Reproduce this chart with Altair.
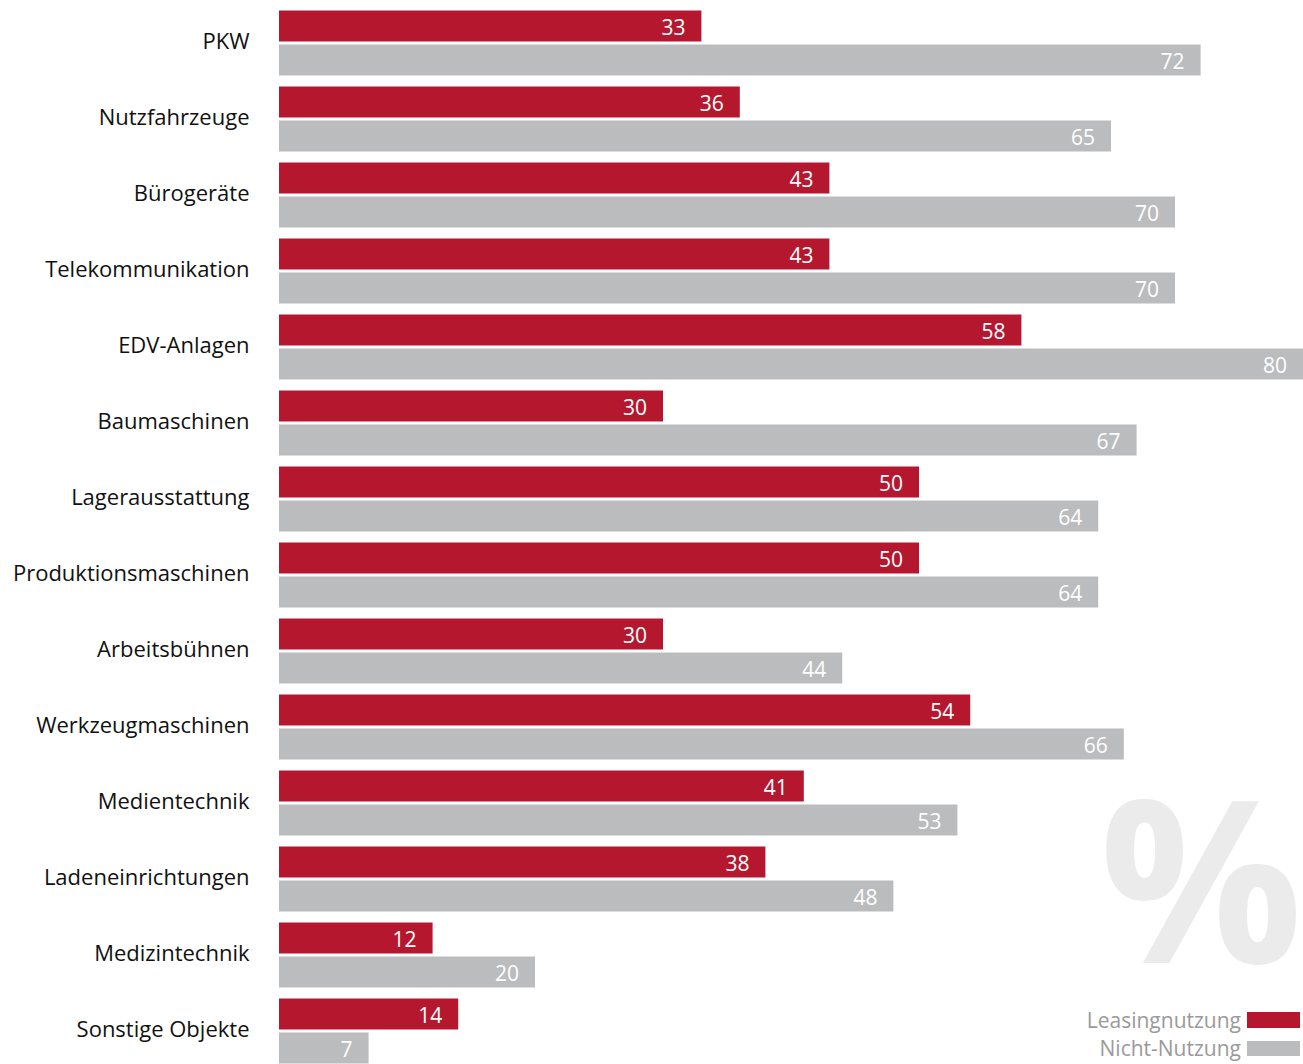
import altair as alt
import pandas as pd

categories = ["PKW", "Nutzfahrzeuge", "Bürogeräte", "Telekommunikation", "EDV-Anlagen",
              "Baumaschinen", "Lagerausstattung", "Produktionsmaschinen", "Arbeitsbühnen",
              "Werkzeugmaschinen", "Medientechnik", "Ladeneinrichtungen", "Medizintechnik",
              "Sonstige Objekte"]
leasing = [33, 36, 43, 43, 58, 30, 50, 50, 30, 54, 41, 38, 12, 14]
nicht = [72, 65, 70, 70, 80, 67, 64, 64, 44, 66, 53, 48, 20, 7]
series = ["Leasingnutzung", "Nicht-Nutzung"]
colors = ["#B5182E", "#BBBCBE"]

rows = []
for c, a, b in zip(categories, leasing, nicht):
    rows.append({"Kategorie": c, "Serie": series[0], "Wert": a})
    rows.append({"Kategorie": c, "Serie": series[1], "Wert": b})
df = pd.DataFrame(rows)

FONT = "Open Sans"

y_enc = alt.Y("Kategorie:N", sort=categories, title=None,
              scale=alt.Scale(paddingInner=0.1447, paddingOuter=0.0724),
              axis=alt.Axis(domain=False, ticks=False, labelPadding=30, labelFontSize=22,
                            labelColor="#111111", labelFont=FONT, labelLimit=400, labelOffset=-1))
yoff = alt.YOffset("Serie:N", sort=series, scale=alt.Scale(paddingInner=0.09, paddingOuter=0))
x_enc = alt.X("Wert:Q", scale=alt.Scale(domain=[0, 80], nice=False), axis=None)
color_enc = alt.Color("Serie:N", scale=alt.Scale(domain=series, range=colors), legend=None)

base = alt.Chart(df)

watermark = alt.Chart(pd.DataFrame({"t": ["%"]})).mark_text(
    font=FONT, fontSize=226, fontWeight="bold", color="#EBEBEB", align="center", baseline="alphabetic"
).encode(text="t:N", x=alt.value(922), y=alt.value(958))

bars = base.mark_bar().encode(y=y_enc, yOffset=yoff, x=x_enc, color=color_enc)

labels = base.mark_text(align="right", baseline="middle", dx=-16, dy=3, color="white",
                        fontSize=21, font=FONT).encode(
    y=alt.Y("Kategorie:N", sort=categories), yOffset=alt.YOffset("Serie:N", sort=series),
    x="Wert:Q", text="Wert:Q")

legend_layers = []
leg_y = [(1007, 1023), (1036, 1051)]
for i, s in enumerate(series):
    ldf = pd.DataFrame({"Serie": [s]})
    legend_layers.append(
        alt.Chart(ldf).mark_text(align="right", baseline="alphabetic", fontSize=21, font=FONT,
                                 color="#9A9A9A").encode(
            text="Serie:N", x=alt.value(962), y=alt.value(leg_y[i][1]))
    )
    legend_layers.append(
        alt.Chart(ldf).mark_rect(color=colors[i]).encode(
            x=alt.value(968), x2=alt.value(1021), y=alt.value(leg_y[i][0]), y2=alt.value(leg_y[i][1]))
    )

chart = alt.layer(watermark, bars, labels, *legend_layers).resolve_scale(
    y="shared"
).properties(
    width=1024, height=1064,
    autosize=alt.AutoSizeParams(type="none"),
    padding={"left": 279, "top": 5, "right": 0, "bottom": 0},
).configure_view(stroke=None)

chart.save("out.html", embed_options={"renderer": "svg", "actions": False})
